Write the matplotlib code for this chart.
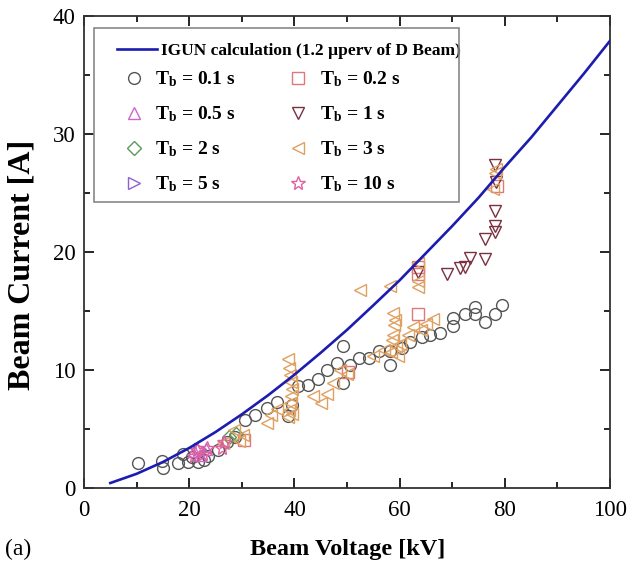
import matplotlib
matplotlib.use("Agg")
import matplotlib.pyplot as plt
from matplotlib.patches import Rectangle
from matplotlib.ticker import MultipleLocator

plt.rcParams['font.family'] = ['Liberation Serif', 'DejaVu Serif']
plt.rcParams['mathtext.default'] = 'regular'

# IGUN curve (1.2 uperv)
curve_v = [5, 10, 15, 20, 25, 30, 35, 40, 45, 50, 55, 60, 65, 70, 75, 80, 85, 90, 95, 100]
curve_i = [0.42, 1.2, 2.2, 3.39, 4.74, 6.24, 7.86, 9.6, 11.46, 13.4, 15.48, 17.6, 19.9,
           22.2, 24.6, 27.2, 29.7, 32.4, 35.1, 37.9]

# Tb = 0.1 s
v01 = [10.3, 14.8, 15.0, 17.9, 18.9, 19.8, 20.6, 21.7, 22.8, 23.6, 25.5, 27.1, 28.7, 30.6,
       32.5, 34.7, 36.6, 38.7, 39.6, 40.7, 42.6, 44.5, 46.1, 48.0, 49.3, 49.3, 50.5, 52.2,
       54.1, 56.0, 58.2, 58.2, 60.4, 62.0, 64.2, 65.8, 67.7, 70.2, 70.2, 72.4, 74.3, 74.3,
       76.2, 78.1, 79.4]
i01 = [2.1, 2.3, 1.7, 2.1, 2.9, 2.2, 2.6, 2.2, 2.4, 2.7, 3.2, 3.9, 4.3, 5.8,
       6.2, 6.8, 7.3, 6.1, 7.0, 8.6, 8.7, 9.2, 10.0, 10.6, 12.0, 8.9, 10.4, 11.0,
       11.0, 11.6, 10.4, 11.6, 11.9, 12.4, 12.8, 13.0, 13.1, 13.7, 14.4, 14.7, 15.3, 14.7,
       14.1, 14.7, 15.5]
# Tb = 0.2 s
v02 = [30.5, 50.2, 63.5, 63.5, 63.5, 78.5]
i02 = [4.1, 9.8, 14.7, 18.1, 18.7, 25.6]
# Tb = 0.5 s
v05 = [21.0, 22.0, 23.2]
i05 = [3.1, 2.8, 3.3]
# Tb = 1 s
v1 = [63.5, 69.0, 71.4, 72.4, 73.4, 76.2, 76.2, 78.1, 78.1, 78.1, 78.3, 78.1]
i1 = [18.3, 18.1, 18.6, 18.7, 19.5, 19.4, 21.1, 21.7, 22.2, 23.5, 25.9, 27.4]
# Tb = 2 s
v2 = [27.5, 28.8]
i2 = [4.3, 4.6]
# Tb = 3 s
v3 = [26.5, 28.5, 29.5, 30.2, 34.7, 35.6, 36.6, 38.8, 38.8, 39.0, 39.0, 39.2, 39.2, 39.4,
      39.4, 39.6, 39.6, 43.6, 45.0, 46.1, 47.3, 48.6, 49.9, 52.5, 55.0, 57.0, 58.2, 58.4,
      58.6, 58.8, 58.8, 59.0, 59.2, 59.4, 59.6, 60.0, 61.5, 62.5, 63.5, 63.5, 63.5, 64.0,
      65.0, 66.4, 77.8, 78.1, 78.3]
i3 = [3.8, 4.9, 4.0, 4.5, 5.5, 6.2, 6.7, 10.9, 6.0, 10.2, 6.6, 9.6, 7.2, 9.0,
      7.8, 8.4, 6.3, 7.8, 7.2, 8.0, 8.9, 10.0, 9.7, 16.8, 11.2, 11.7, 17.1, 11.5,
      12.5, 14.8, 13.0, 13.8, 14.2, 12.0, 11.2, 12.2, 13.0, 13.6, 19.1, 17.5, 17.0, 13.4,
      13.9, 14.3, 25.3, 26.7, 27.0]
# Tb = 5 s
v5 = [22.0]
i5 = [3.3]
# Tb = 10 s
v10 = [21.0, 21.5, 22.6, 23.4, 26.3, 26.6]
i10 = [2.7, 3.2, 2.9, 3.4, 3.4, 3.9]

series = [
    (v01, i01, 'o', '#555555', '0.1 s'),
    (v02, i02, 's', '#e07878', '0.2 s'),
    (v05, i05, '^', '#cc66cc', '0.5 s'),
    (v1, i1, 'v', '#7a3040', '1 s'),
    (v2, i2, 'D', '#5a9a5a', '2 s'),
    (v3, i3, '<', '#e0a060', '3 s'),
    (v5, i5, '>', '#9060d0', '5 s'),
    (v10, i10, '*', '#e060a0', '10 s'),
]

fig = plt.figure(figsize=(6.27, 5.69), dpi=100)
ax = fig.add_axes([0.134, 0.1424, 0.839, 0.8296])

line, = ax.plot(curve_v, curve_i, color='#1c1cb0', lw=1.9, zorder=3,
                label='IGUN calculation (1.2 µperv of D Beam)')

handles = []
for v, i, m, c, lab in series:
    ms = 8.5 if m != 'D' else 7
    if m == '*':
        ms = 10
    h, = ax.plot(v, i, ls='none', marker=m, ms=ms, mfc='none', mec=c, mew=1.0,
                 label=r'T$_\mathregular{b}$ = ' + lab, zorder=2)
    handles.append(h)

ax.set_xlim(0, 100)
ax.set_ylim(0, 40)
ax.xaxis.set_major_locator(MultipleLocator(20))
ax.xaxis.set_minor_locator(MultipleLocator(10))
ax.yaxis.set_major_locator(MultipleLocator(10))
ax.yaxis.set_minor_locator(MultipleLocator(5))
ax.tick_params(which='both', direction='in', top=True, right=True, labelsize=16.5, width=1.2)
ax.tick_params(which='major', length=7)
ax.tick_params(which='minor', length=4)
ax.tick_params(axis='x', pad=9)
ax.tick_params(axis='y', pad=6)
for s in ax.spines.values():
    s.set_linewidth(1.3)
    s.set_color('#333333')

ax.set_xlabel('Beam Voltage [kV]', fontsize=17.5, fontweight='bold')
ax.set_ylabel('Beam Current [A]', fontsize=23, fontweight='bold')
ax.xaxis.set_label_coords(0.501, -0.108)
ax.yaxis.set_label_coords(-0.090, 0.472)

leg1 = ax.legend(handles=[line], loc='upper left', bbox_to_anchor=(0.063, 0.942),
                 frameon=False, prop={'size': 12.5, 'weight': 'bold'},
                 handlelength=2.3, handletextpad=0.25, borderpad=0, borderaxespad=0)
ax.add_artist(leg1)
order = [handles[0], handles[2], handles[4], handles[6],
         handles[1], handles[3], handles[5], handles[7]]
leg2 = ax.legend(handles=order, ncol=2, loc='upper left', bbox_to_anchor=(0.073, 0.886),
                 frameon=False, prop={'size': 14, 'weight': 'bold'},
                 handlelength=1.2, handletextpad=0.5, columnspacing=2.6,
                 labelspacing=0.78, borderpad=0, borderaxespad=0)
ax.add_patch(Rectangle((0.019, 0.606), 0.693, 0.369, transform=ax.transAxes,
                       fill=False, ec='#888888', lw=1.2, zorder=5))

fig.text(0.008, 0.025, '(a)', fontsize=17)

fig.savefig('out.png', dpi=100)
